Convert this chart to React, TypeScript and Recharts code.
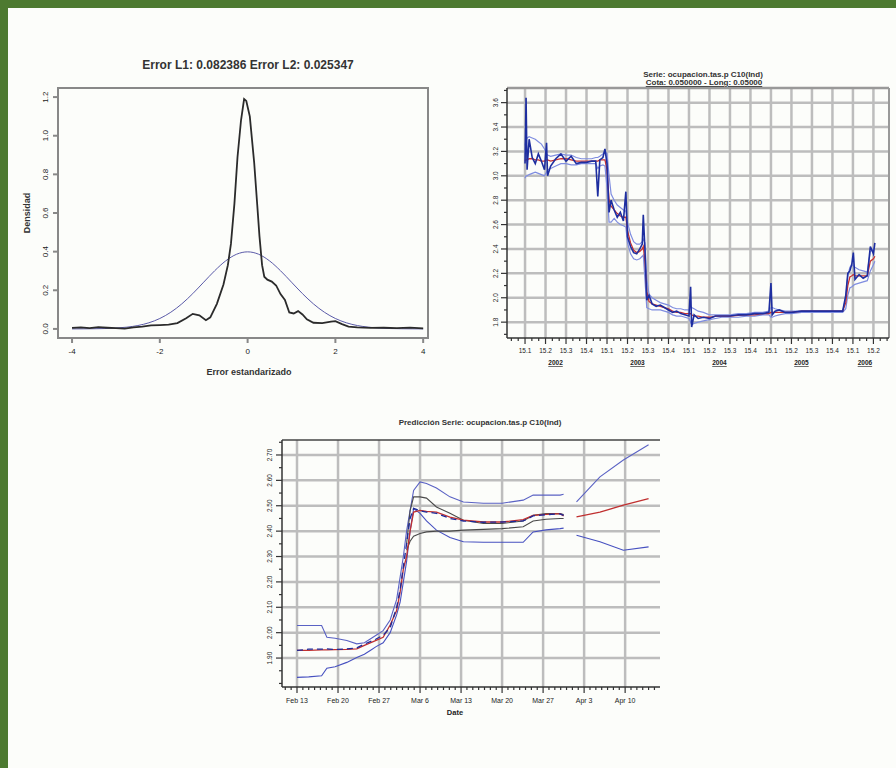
import React from 'react';
import { LineChart, Line, XAxis, YAxis, ReferenceLine, ReferenceArea } from 'recharts';

const FONT = '"Liberation Sans", Arial, sans-serif';

// ---------------- Chart 1: density of standardized error ----------------
const c1Title = 'Error L1: 0.082386 Error L2: 0.025347';
const c1XLabel = 'Error estandarizado';
const c1YLabel = 'Densidad';
const c1XTicks = [-4, -2, 0, 2, 4];
const c1YTicks = [0, 0.2, 0.4, 0.6, 0.8, 1.0, 1.2];
const c1XDomain = [-4.32, 4.11];
const c1YDomain = [-0.047, 1.247];
const empX = [-4.0, -3.8, -3.6, -3.4, -3.2, -3.0, -2.8, -2.6, -2.4, -2.2, -2.0, -1.8, -1.6, -1.4, -1.25, -1.1, -0.95, -0.85, -0.7, -0.55, -0.45, -0.38, -0.3, -0.23, -0.15, -0.08, -0.03, 0.05, 0.15, 0.22, 0.27, 0.33, 0.38, 0.45, 0.55, 0.65, 0.75, 0.85, 0.95, 1.05, 1.15, 1.25, 1.35, 1.5, 1.7, 1.9, 2.0, 2.15, 2.3, 2.5, 2.8, 3.1, 3.4, 3.7, 4.0];
const empY = [0.005, 0.008, 0.004, 0.009, 0.006, 0.004, 0.002, 0.008, 0.012, 0.018, 0.02, 0.022, 0.03, 0.055, 0.078, 0.07, 0.045, 0.06, 0.13, 0.23, 0.33, 0.44, 0.65, 0.89, 1.08, 1.19, 1.18, 1.1, 0.86, 0.64, 0.48, 0.33, 0.27, 0.255, 0.245, 0.225, 0.18, 0.15, 0.085, 0.08, 0.092, 0.075, 0.05, 0.032, 0.03, 0.038, 0.04, 0.025, 0.012, 0.008, 0.005, 0.006, 0.004, 0.007, 0.003];
const normX = [-4, -3.75, -3.5, -3.25, -3, -2.75, -2.5, -2.25, -2, -1.75, -1.5, -1.25, -1, -0.75, -0.5, -0.25, 0, 0.25, 0.5, 0.75, 1, 1.25, 1.5, 1.75, 2, 2.25, 2.5, 2.75, 3, 3.25, 3.5, 3.75, 4];
const normY = [0.0001, 0.0004, 0.0009, 0.002, 0.0044, 0.0091, 0.0175, 0.0317, 0.054, 0.0863, 0.1295, 0.1826, 0.242, 0.3011, 0.3521, 0.3867, 0.3989, 0.3867, 0.3521, 0.3011, 0.242, 0.1826, 0.1295, 0.0863, 0.054, 0.0317, 0.0175, 0.0091, 0.0044, 0.002, 0.0009, 0.0004, 0.0001];

// ---------------- Chart 2: quarterly series ----------------
const c2Title1 = 'Serie: ocupacion.tas.p      C10(Ind)';
const c2Title2 = 'Cota: 0.050000 - Long: 0.05000';
const c2QuarterLabels = ['15.1', '15.2', '15.3', '15.4'];
const c2Years = ['2002', '2003', '2004', '2005', '2006'];
const c2XDomain = [-0.88, 17.76];
const c2YDomain = [1.67, 3.72];
const c2Q = [0, 0.05, 0.1, 0.2, 0.35, 0.5, 0.65, 0.8, 0.95, 1.05, 1.1, 1.25, 1.5, 1.75, 2.0, 2.25, 2.5, 2.75, 3.0, 3.25, 3.45, 3.55, 3.65, 3.8, 3.9, 4.0, 4.1, 4.2, 4.35, 4.5, 4.65, 4.8, 4.92, 5.0, 5.15, 5.3, 5.45, 5.6, 5.72, 5.77, 5.85, 5.94, 6.05, 6.2, 6.4, 6.6, 6.8, 7.0, 7.2, 7.4, 7.6, 7.8, 8.0, 8.08, 8.13, 8.25, 8.45, 8.7, 9.0, 9.3, 9.6, 10.0, 10.4, 10.8, 11.2, 11.6, 11.9, 12.0, 12.06, 12.2, 12.4, 12.7, 13.0, 13.5, 14.0, 14.5, 15.0, 15.5, 15.65, 15.75, 15.85, 15.95, 16.02, 16.1, 16.3, 16.5, 16.7, 16.85, 17.0, 17.07];
const c2Actual = [3.1, 3.64, 3.05, 3.3, 3.15, 3.1, 3.18, 3.12, 3.05, 3.27, 3.0, 3.08, 3.14, 3.18, 3.12, 3.16, 3.1, 3.11, 3.11, 3.12, 3.12, 2.83, 3.13, 3.15, 3.22, 3.1, 2.7, 2.8, 2.72, 2.66, 2.7, 2.63, 2.87, 2.5, 2.42, 2.37, 2.36, 2.4, 2.44, 2.68, 2.4, 1.98, 2.02, 1.95, 1.93, 1.94, 1.92, 1.9, 1.88, 1.89, 1.87, 1.86, 1.85, 2.09, 1.76, 1.86, 1.83, 1.84, 1.83, 1.85, 1.85, 1.85, 1.86, 1.86, 1.87, 1.87, 1.88, 2.12, 1.86, 1.89, 1.9, 1.88, 1.88, 1.89, 1.89, 1.89, 1.89, 1.89, 2.02, 2.2, 2.22, 2.28, 2.37, 2.15, 2.19, 2.16, 2.18, 2.42, 2.36, 2.45];
const c2Fit = [3.12, 3.13, 3.13, 3.14, 3.14, 3.13, 3.13, 3.12, 3.12, 3.13, 3.13, 3.12, 3.13, 3.14, 3.14, 3.13, 3.12, 3.12, 3.12, 3.12, 3.12, 3.12, 3.13, 3.13, 3.13, 3.05, 2.8, 2.75, 2.72, 2.69, 2.67, 2.66, 2.66, 2.55, 2.45, 2.39, 2.37, 2.38, 2.4, 2.42, 2.3, 2.05, 1.97, 1.95, 1.94, 1.93, 1.92, 1.91, 1.89, 1.88, 1.88, 1.87, 1.87, 1.87, 1.86, 1.85, 1.85, 1.84, 1.84, 1.85, 1.85, 1.85, 1.855, 1.86, 1.86, 1.87, 1.87, 1.88, 1.88, 1.88, 1.88, 1.88, 1.88, 1.89, 1.89, 1.89, 1.89, 1.89, 1.96, 2.1, 2.17, 2.18, 2.19, 2.18, 2.18, 2.18, 2.18, 2.3, 2.32, 2.34];
const c2Upper = [3.25, 3.3, 3.31, 3.32, 3.31, 3.3, 3.28, 3.26, 3.22, 3.18, 3.17, 3.16, 3.17, 3.18, 3.17, 3.17, 3.15, 3.14, 3.14, 3.14, 3.15, 3.15, 3.16, 3.18, 3.2, 3.18, 3.0, 2.85, 2.8, 2.76, 2.74, 2.72, 2.71, 2.62, 2.52, 2.46, 2.44, 2.44, 2.46, 2.48, 2.45, 2.15, 2.03, 2.0, 1.98, 1.96, 1.95, 1.94, 1.92, 1.91, 1.91, 1.9, 1.9, 1.93, 1.92, 1.91, 1.89, 1.88, 1.86, 1.86, 1.86, 1.86, 1.87, 1.87, 1.88, 1.88, 1.89, 1.92, 1.92, 1.91, 1.9, 1.89, 1.89, 1.89, 1.89, 1.89, 1.89, 1.89, 2.0, 2.18, 2.25, 2.27, 2.26, 2.25, 2.23, 2.22, 2.21, 2.38, 2.4, 2.42];
const c2Lower = [2.98, 3.0, 3.0, 3.01, 3.02, 3.03, 3.02, 3.01, 3.0, 3.03, 3.05, 3.06, 3.08, 3.1, 3.1, 3.09, 3.09, 3.1, 3.1, 3.1, 3.1, 3.06, 3.08, 3.09, 3.08, 2.9, 2.62, 2.62, 2.65, 2.62, 2.6, 2.59, 2.58, 2.45, 2.36, 2.32, 2.31, 2.32, 2.34, 2.35, 2.15, 1.92, 1.91, 1.9, 1.9, 1.9, 1.89, 1.88, 1.86, 1.85, 1.85, 1.84, 1.83, 1.8, 1.78, 1.79, 1.8, 1.81, 1.82, 1.83, 1.84, 1.84, 1.84, 1.85, 1.85, 1.86, 1.86, 1.84, 1.84, 1.85, 1.86, 1.87, 1.87, 1.88, 1.88, 1.88, 1.88, 1.88, 1.91, 2.02, 2.08, 2.09, 2.1, 2.11, 2.12, 2.13, 2.14, 2.22, 2.27, 2.3];

// ---------------- Chart 3: prediction ----------------
const c3Title = 'Predicción Serie: ocupacion.tas.p      C10(Ind)';
const c3XLabel = 'Date';
const c3WeekLabels = ['Feb 13', 'Feb 20', 'Feb 27', 'Mar 6', 'Mar 13', 'Mar 20', 'Mar 27', 'Apr 3', 'Apr 10'];
const c3XDomain = [-2.56, 61.95];
const c3YDomain = [1.786, 2.759];
const c3Day = [0, 2, 4.2, 5.1, 6.5, 8.5, 10.2, 11.5, 12.5, 13.5, 14.7, 15.9, 17.0, 17.6, 18.15, 18.7, 19.3, 19.9, 21.0, 22.1, 23.8, 26.1, 28.4, 31.8, 35.0, 38.6, 40.3, 42.5, 44.9, 45.5, 46.2, 47.7, 51.7, 55.7, 60.0];
const c3UpOuter = [2.028, 2.028, 2.028, 1.982, 1.978, 1.969, 1.956, 1.96, 1.975, 1.99, 2.008, 2.05, 2.13, 2.219, 2.3, 2.4, 2.482, 2.56, 2.594, 2.588, 2.57, 2.535, 2.515, 2.51, 2.51, 2.522, 2.542, 2.542, 2.542, 2.545, null, 2.515, 2.614, 2.68, 2.74];
const c3UpInner = [null, null, null, null, null, null, null, null, null, null, null, null, null, null, null, 2.35, 2.48, 2.535, 2.535, 2.53, 2.495, 2.47, 2.443, 2.43, 2.43, 2.44, 2.462, 2.469, 2.469, 2.465, null, null, null, null, null];
const c3Fit = [1.93, 1.93, 1.932, 1.932, 1.933, 1.934, 1.936, 1.95, 1.96, 1.97, 1.982, 2.03, 2.087, 2.16, 2.25, 2.3, 2.4, 2.475, 2.482, 2.478, 2.475, 2.455, 2.443, 2.436, 2.436, 2.445, 2.462, 2.466, 2.469, 2.46, null, 2.456, 2.475, 2.502, 2.528];
const c3LoInner = [null, null, null, null, null, null, null, null, null, null, null, null, null, null, null, 2.325, 2.36, 2.38, 2.391, 2.397, 2.4, 2.4, 2.404, 2.407, 2.41, 2.417, 2.44, 2.447, 2.45, 2.45, null, null, null, null, null];
const c3LoOuter = [1.824, 1.826, 1.83, 1.86, 1.866, 1.883, 1.902, 1.915, 1.93, 1.945, 1.96, 2.0, 2.07, 2.12, 2.2, 2.28, 2.4, 2.489, 2.47, 2.44, 2.404, 2.375, 2.358, 2.356, 2.356, 2.356, 2.397, 2.405, 2.41, 2.412, null, 2.384, 2.358, 2.325, 2.338];
const c3Actual = [1.93, 1.935, 1.935, 1.936, 1.934, 1.936, 1.94, 1.955, 1.965, 1.975, 1.99, 2.02, 2.1, 2.17, 2.26, 2.35, 2.45, 2.49, 2.48, 2.475, 2.47, 2.45, 2.44, 2.435, 2.436, 2.44, 2.46, 2.465, 2.468, 2.462, null, null, null, null, null];

// ---------------- data tables ----------------
const empData = empX.map((x, i) => ({ x, y: empY[i] }));
const normData = normX.map((x, i) => ({ x, y: normY[i] }));
const c2Data = c2Q.map((q, i) => ({ q, actual: c2Actual[i], fit: c2Fit[i], up: c2Upper[i], lo: c2Lower[i] }));
const c3Data = c3Day.map((d, i) => ({ d, upO: c3UpOuter[i], upI: c3UpInner[i], fit: c3Fit[i], loI: c3LoInner[i], loO: c3LoOuter[i], act: c3Actual[i] }));

const range = (a: number, b: number, step: number) => {
  const out: number[] = [];
  const n = Math.round((b - a) / step);
  for (let i = 0; i <= n; i++) out.push(Math.round((a + i * step) * 1000) / 1000);
  return out;
};
const isMult = (v: number, s: number) => Math.abs(v / s - Math.round(v / s)) < 1e-6;

const c2XTicks = range(-2 / 3, 17 + 2 / 3, 1 / 3);
const c2MajorX = range(0, 17, 1);
const c2YTicks = range(1.7, 3.7, 0.1);
const c2MajorY = range(1.8, 3.6, 0.2);
const c3XTicks = range(-2, 61, 1);
const c3MajorX = range(0, 56, 7);
const c3YTicks = range(1.8, 2.75, 0.05);
const c3MajorY = range(1.9, 2.7, 0.1);

// ---------------- tick renderers ----------------
const C1YTick = (p: any) => {
  const { x, y, payload } = p;
  const bx = x - 2;
  return (
    <text x={bx} y={y} transform={`rotate(-90 ${bx} ${y})`} textAnchor="middle" fontSize={8} fill="#222" fontFamily={FONT}>
      {Number(payload.value).toFixed(1)}
    </text>
  );
};

const C2XTick = (p: any) => {
  const { x, y, payload } = p;
  const v = payload.value;
  const major = isMult(v, 1);
  const qi = Math.round(v);
  let year: React.ReactNode = null;
  if (major && qi >= 0) {
    if (qi % 4 === 1 && qi < 16) year = <text x={x + 10} y={y + 27} textAnchor="middle" fontSize={6.5} fontWeight="bold" fill="#222" fontFamily={FONT} textDecoration="underline">{c2Years[(qi - 1) / 4]}</text>;
    if (qi === 16) year = <text x={x + 12} y={y + 27} textAnchor="middle" fontSize={6.5} fontWeight="bold" fill="#222" fontFamily={FONT} textDecoration="underline">{c2Years[4]}</text>;
  }
  return (
    <g>
      <line x1={x} y1={y} x2={x} y2={y + (major ? 6 : 3)} stroke="#333" strokeWidth={1.2} />
      {major && qi >= 0 && (
        <text x={x} y={y + 15} textAnchor="middle" fontSize={6.5} fill="#222" fontFamily={FONT}>{c2QuarterLabels[qi % 4]}</text>
      )}
      {year}
    </g>
  );
};

const C2YTick = (p: any) => {
  const { x, y, payload } = p;
  const v = payload.value;
  const major = c2MajorY.some((m) => Math.abs(m - v) < 1e-6);
  const bx = x - 9;
  return (
    <g>
      <line x1={x} y1={y} x2={x - (major ? 6 : 3)} y2={y} stroke="#333" strokeWidth={1.2} />
      {major && (
        <text x={bx} y={y} transform={`rotate(-90 ${bx} ${y})`} textAnchor="middle" fontSize={6.5} fill="#222" fontFamily={FONT}>{v.toFixed(1)}</text>
      )}
    </g>
  );
};

const C3XTick = (p: any) => {
  const { x, y, payload } = p;
  const v = payload.value;
  const major = v >= 0 && isMult(v, 7) && v <= 56;
  return (
    <g>
      <line x1={x} y1={y} x2={x} y2={y + (major ? 6 : 3)} stroke="#333" strokeWidth={1.2} />
      {major && (
        <text x={x} y={y + 16} textAnchor="middle" fontSize={7} fill="#222" fontFamily={FONT}>{c3WeekLabels[Math.round(v / 7)]}</text>
      )}
    </g>
  );
};

const C3YTick = (p: any) => {
  const { x, y, payload } = p;
  const v = payload.value;
  const major = c3MajorY.some((m) => Math.abs(m - v) < 1e-6);
  const bx = x - 10;
  return (
    <g>
      <line x1={x} y1={y} x2={x - (major ? 6 : 3)} y2={y} stroke="#333" strokeWidth={1.2} />
      {major && (
        <text x={bx} y={y} transform={`rotate(-90 ${bx} ${y})`} textAnchor="middle" fontSize={6.5} fill="#222" fontFamily={FONT}>{v.toFixed(2)}</text>
      )}
    </g>
  );
};

const abs = (left: number, top: number): React.CSSProperties => ({ position: 'absolute', left, top });
const txt = (left: number, top: number, size: number, extra: React.CSSProperties = {}): React.CSSProperties => ({
  position: 'absolute', left, top, fontSize: size, fontFamily: FONT, color: '#222', whiteSpace: 'nowrap', lineHeight: 1, transform: 'translate(-50%, -50%)', ...extra,
});

const GRID = '#bdbdbd';

export default function App() {
  return (
    <div style={{ position: 'absolute', left: 0, top: 0, width: 896, height: 768, background: '#4d7a30', overflow: 'hidden' }}>
      <div style={{ position: 'absolute', left: 8, top: 8, width: 888, height: 760, background: '#fcfdfa' }} />

      {/* Chart 1 */}
      <div style={txt(248, 65, 12, { fontWeight: 'bold', color: '#333' })}>{c1Title}</div>
      <div style={txt(27, 213, 9, { transform: 'translate(-50%, -50%) rotate(-90deg)', fontWeight: 'bold', color: '#333' })}>{c1YLabel}</div>
      <div style={txt(249, 372, 9, { fontWeight: 'bold', color: '#333' })}>{c1XLabel}</div>
      <div style={abs(10, 40)}>
        <LineChart width={430} height={340} margin={{ top: 48, right: 12, bottom: 0, left: 0 }}>
          <XAxis dataKey="x" type="number" domain={c1XDomain} ticks={c1XTicks} interval={0} allowDataOverflow height={42}
            tickSize={5} tickMargin={5} stroke="#888" strokeWidth={2} tick={{ fontSize: 8, fill: '#222', fontFamily: FONT }} />
          <YAxis type="number" domain={c1YDomain} ticks={c1YTicks} interval={0} allowDataOverflow width={48}
            tickSize={5} tickMargin={3} stroke="#888" strokeWidth={2} tick={<C1YTick />} />
          <ReferenceArea x1={c1XDomain[0]} x2={c1XDomain[1]} y1={c1YDomain[0]} y2={c1YDomain[1]} fill="none" fillOpacity={0} stroke="#888" strokeWidth={2} ifOverflow="visible" />
          <Line data={normData} dataKey="y" type="monotone" stroke="#5a5aa8" strokeWidth={1} dot={false} isAnimationActive={false} />
          <Line data={empData} dataKey="y" type="linear" stroke="#2b2b2b" strokeWidth={1.8} dot={false} isAnimationActive={false} />
        </LineChart>
      </div>

      {/* Chart 2 */}
      <div style={txt(703, 75, 8, { fontWeight: 'bold', color: '#333' })}>{c2Title1}</div>
      <div style={txt(704, 83, 8, { textDecoration: 'underline', fontWeight: 'bold', color: '#333' })}>{c2Title2}</div>
      <div style={abs(470, 60)}>
        <LineChart width={420} height={320} data={c2Data} margin={{ top: 28, right: 1, bottom: 0, left: 0 }}>
          <XAxis dataKey="q" type="number" domain={c2XDomain} ticks={c2XTicks} interval={0} allowDataOverflow height={42}
            tickSize={0} tickMargin={0} tickLine={false} stroke="#333" strokeWidth={1.5} tick={<C2XTick />} />
          <YAxis type="number" domain={c2YDomain} ticks={c2YTicks} interval={0} allowDataOverflow width={37}
            tickSize={0} tickMargin={0} tickLine={false} stroke="#333" strokeWidth={1.5} tick={<C2YTick />} />
          {c2MajorX.map((q) => (
            <ReferenceLine key={'vx' + q} x={q} stroke={GRID} strokeWidth={2.5} />
          ))}
          {c2MajorY.map((v) => (
            <ReferenceLine key={'hy' + v} y={v} stroke={GRID} strokeWidth={2.5} />
          ))}
          <ReferenceLine y={c2YDomain[1]} stroke="#999" strokeWidth={2.5} ifOverflow="visible" />
          <ReferenceLine x={c2XDomain[1]} stroke="#999" strokeWidth={2} ifOverflow="visible" />
          <Line dataKey="up" type="linear" stroke="#7f8de0" strokeWidth={1.2} dot={false} isAnimationActive={false} />
          <Line dataKey="lo" type="linear" stroke="#7f8de0" strokeWidth={1.2} dot={false} isAnimationActive={false} />
          <Line dataKey="fit" type="linear" stroke="#c83232" strokeWidth={1.3} dot={false} isAnimationActive={false} />
          <Line dataKey="actual" type="linear" stroke="#1e2ea0" strokeWidth={1.6} dot={false} isAnimationActive={false} />
        </LineChart>
      </div>

      {/* Chart 3 */}
      <div style={txt(480, 423, 8, { fontWeight: 'bold', color: '#333' })}>{c3Title}</div>
      <div style={txt(455, 713, 7.5, { fontWeight: 'bold' })}>{c3XLabel}</div>
      <div style={abs(250, 410)}>
        <LineChart width={420} height={320} data={c3Data} margin={{ top: 30, right: 10, bottom: 0, left: 0 }}>
          <XAxis dataKey="d" type="number" domain={c3XDomain} ticks={c3XTicks} interval={0} allowDataOverflow height={43}
            tickSize={0} tickMargin={0} tickLine={false} stroke="#333" strokeWidth={1.5} tick={<C3XTick />} />
          <YAxis type="number" domain={c3YDomain} ticks={c3YTicks} interval={0} allowDataOverflow width={32}
            tickSize={0} tickMargin={0} tickLine={false} stroke="#333" strokeWidth={1.5} tick={<C3YTick />} />
          {c3MajorX.map((d) => (
            <ReferenceLine key={'vx' + d} x={d} stroke={GRID} strokeWidth={2.5} />
          ))}
          {c3MajorY.map((v) => (
            <ReferenceLine key={'hy' + v} y={v} stroke={GRID} strokeWidth={2.5} />
          ))}
          <ReferenceLine y={c3YDomain[1]} stroke="#444" strokeWidth={1.5} ifOverflow="visible" />
          <Line dataKey="upO" type="linear" stroke="#5a62c4" strokeWidth={1.1} dot={false} isAnimationActive={false} />
          <Line dataKey="loO" type="linear" stroke="#4650c0" strokeWidth={1.1} dot={false} isAnimationActive={false} />
          <Line dataKey="upI" type="linear" stroke="#4a4a4a" strokeWidth={1.1} dot={false} isAnimationActive={false} />
          <Line dataKey="loI" type="linear" stroke="#4a4a4a" strokeWidth={1.1} dot={false} isAnimationActive={false} />
          <Line dataKey="fit" type="linear" stroke="#c03030" strokeWidth={1.3} dot={false} isAnimationActive={false} />
          <Line dataKey="act" type="linear" stroke="#1d2a9a" strokeWidth={1.3} strokeDasharray="6 4" dot={false} isAnimationActive={false} />
        </LineChart>
      </div>
    </div>
  );
}
